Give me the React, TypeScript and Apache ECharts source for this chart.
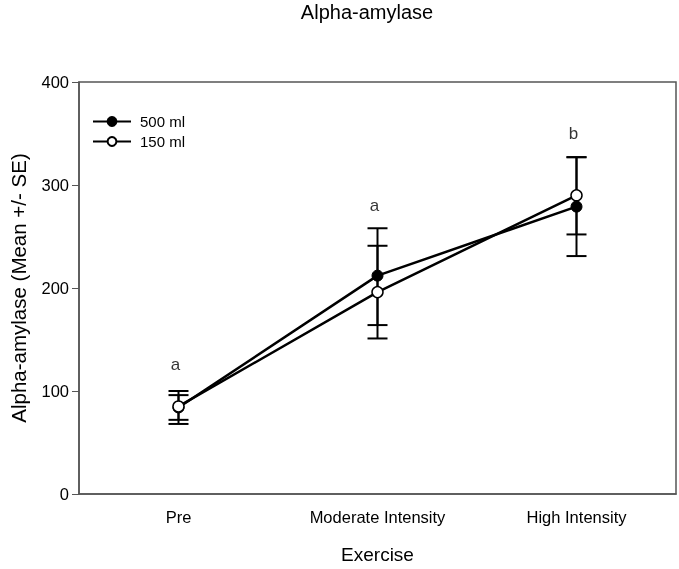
import React, { useEffect, useRef } from "react";
import * as echarts from "echarts";

const categories = ["Pre", "Moderate Intensity", "High Intensity"];
const mean500 = [84, 212, 279];
const upper500 = [100, 258, 327];
const lower500 = [68, 164, 231];
const mean150 = [85, 196, 290];
const upper150 = [96, 241, 327];
const lower150 = [72, 151, 252];
const letters = ["a", "a", "b"];
const letterY = [126, 280, 350];

const FONT = "Liberation Sans, Arial, sans-serif";

export default function App() {
  const ref = useRef<HTMLDivElement>(null);
  useEffect(() => {
    if (!ref.current) return;
    const chart = echarts.init(ref.current, undefined, { renderer: "svg" });
    const errData = (lo: number[], hi: number[]) => categories.map((_, i) => [i, lo[i], hi[i]]);
    const errSeries = (name: string, lo: number[], hi: number[]) => ({
      type: "custom",
      name: name + "_err",
      z: 1,
      silent: true,
      data: errData(lo, hi),
      renderItem: (params: any, api: any) => {
        const x = api.value(0);
        const p1 = api.coord([x, api.value(1)]);
        const p2 = api.coord([x, api.value(2)]);
        const w = 10;
        const style = { stroke: "#000", lineWidth: 2, fill: "none" };
        return {
          type: "group",
          children: [
            { type: "line", shape: { x1: p1[0], y1: p1[1], x2: p2[0], y2: p2[1] }, style },
            { type: "line", shape: { x1: p1[0] - w, y1: p1[1], x2: p1[0] + w, y2: p1[1] }, style },
            { type: "line", shape: { x1: p2[0] - w, y1: p2[1], x2: p2[0] + w, y2: p2[1] }, style },
          ],
        };
      },
    });
    chart.setOption({
      animation: false,
      textStyle: { fontFamily: FONT },
      title: {
        text: "Alpha-amylase",
        left: 362,
        textAlign: "center",
        top: -3,
        textStyle: { fontFamily: FONT, fontSize: 20, fontWeight: "normal", color: "#000" },
      },
      legend: {
        orient: "vertical",
        left: 87,
        top: 109,
        itemWidth: 38,
        itemHeight: 11,
        itemGap: 5,
        data: ["500 ml", "150 ml"],
        textStyle: { fontFamily: FONT, fontSize: 15, color: "#000", padding: [0, 0, 0, 4] },
      },
      grid: {
        left: 77,
        right: 3,
        top: 82,
        bottom: 68,
        show: true,
        borderColor: "#555",
        borderWidth: 1.5,
      },
      xAxis: {
        type: "category",
        data: categories,
        boundaryGap: true,
        name: "Exercise",
        nameLocation: "middle",
        nameGap: 51,
        nameTextStyle: { fontFamily: FONT, fontSize: 19, color: "#000" },
        axisLine: { lineStyle: { color: "#555", width: 1.5 } },
        axisTick: { alignWithLabel: true, length: 5, lineStyle: { color: "#555" } },
        axisLabel: { fontFamily: FONT, fontSize: 16.5, color: "#000", margin: 14 },
        splitLine: { show: false },
      },
      yAxis: {
        type: "value",
        min: 0,
        max: 400,
        interval: 100,
        name: "Alpha-amylase (Mean +/- SE)",
        nameLocation: "middle",
        nameGap: 50,
        nameTextStyle: { fontFamily: FONT, fontSize: 20.5, color: "#000" },
        axisLine: { show: true, lineStyle: { color: "#555", width: 1.5 } },
        axisTick: { show: true, length: 7, lineStyle: { color: "#555" } },
        axisLabel: { fontFamily: FONT, fontSize: 16.5, color: "#000", margin: 10 },
        splitLine: { show: false },
      },
      series: [
        errSeries("500 ml", lower500, upper500),
        errSeries("150 ml", lower150, upper150),
        {
          type: "line",
          name: "500 ml",
          z: 3,
          data: mean500,
          symbol: "circle",
          symbolSize: 11,
          lineStyle: { color: "#000", width: 2.5 },
          itemStyle: { color: "#000", borderColor: "#000", borderWidth: 1 },
        },
        {
          type: "line",
          name: "150 ml",
          z: 3,
          data: mean150,
          symbol: "circle",
          symbolSize: 11,
          lineStyle: { color: "#000", width: 2.5 },
          itemStyle: { color: "#fff", borderColor: "#000", borderWidth: 1.5 },
        },
        {
          type: "scatter",
          name: "letters",
          symbolSize: 0,
          silent: true,
          data: categories.map((_, i) => [i, letterY[i], letters[i]]),
          label: {
            show: true,
            position: "inside",
            offset: [-3, 0],
            formatter: (p: any) => p.value[2],
            fontFamily: FONT,
            fontSize: 17,
            color: "#000",
          },
        },
      ],
    });
    return () => chart.dispose();
  }, []);
  return (
    <div
      ref={ref}
      style={{ position: "fixed", left: 0, top: 0, width: 679, height: 569 }}
    />
  );
}
